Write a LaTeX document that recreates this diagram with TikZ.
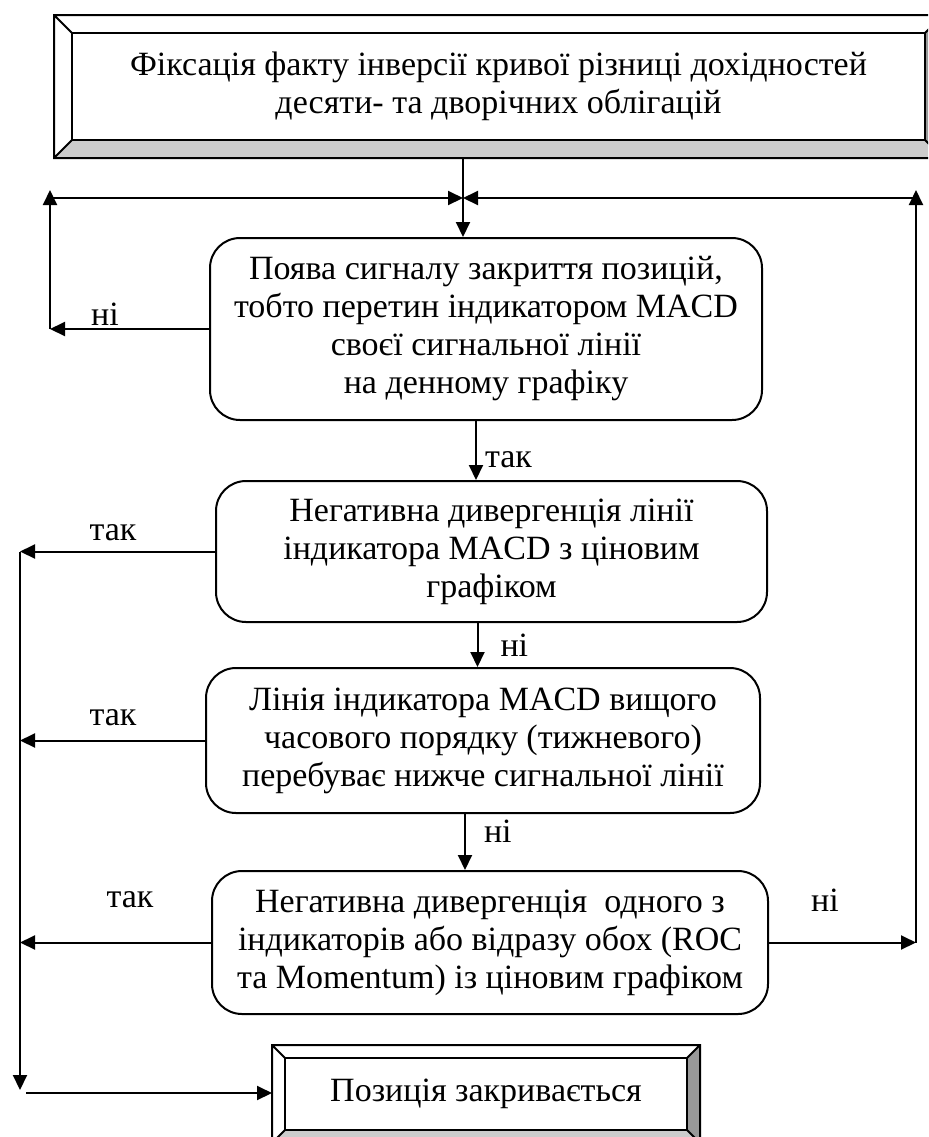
\documentclass[tikz,border=0pt]{standalone}
\usepackage{fontspec}
\setmainfont{Liberation Serif}
\usetikzlibrary{arrows.meta,calc}
\definecolor{bevellight}{RGB}{204,204,204}
\definecolor{beveldark}{RGB}{153,153,153}

\newcommand{\bevelframe}[2]{%
  \coordinate (#1-osw) at ($(#1.south west)+(-#2,#2)$);
  \coordinate (#1-ose) at ($(#1.south east)+(#2,#2)$);
  \coordinate (#1-one) at ($(#1.north east)+(#2,-#2)$);
  \coordinate (#1-onw) at ($(#1.north west)+(-#2,-#2)$);
  \fill[bevellight] (#1-osw) -- (#1-ose) -- (#1.south east) -- (#1.south west) -- cycle;
  \fill[beveldark] (#1-ose) -- (#1-one) -- (#1.north east) -- (#1.south east) -- cycle;
  \draw[bevel line] (#1-onw) rectangle (#1-ose)
    (#1-onw) -- (#1.north west) (#1-one) -- (#1.north east)
    (#1-osw) -- (#1.south west) (#1-ose) -- (#1.south east);
  \draw[bevel line] (#1.south west) rectangle (#1.north east);
}

\begin{document}
\begin{tikzpicture}[
                    x=0.5pt, y=-0.5pt,
                    every node/.style={
                        font=\fontsize{17}{19}\selectfont
                    },
                    condbox/.style={
                        draw,
                        line width=1pt,
                        rounded corners=15pt,
                        align=center,
                        inner sep=2pt
                    },
                    bevelinner/.style={
                        align=center,
                        inner sep=0pt,
                        outer sep=0pt
                    },
                    bevel line/.style={line width=1pt},
                    arr/.style={
                        line width=1pt,
                        -{Triangle[length=7.5pt,width=7pt]}
                    },
                    lbl/.style={inner sep=1pt}
                ]
    \path[use as bounding box, clip] (0,0) rectangle (928,1137);

    \node[bevelinner, minimum width=426.5pt, minimum height=53.5pt] (fix) at (498.5,86.5)
        {Фіксація факту інверсії кривої різниці дохідностей\\десяти- та дворічних облігацій};
    \bevelframe{fix}{18}

    \node[condbox, minimum width=276pt, minimum height=91pt] (sig) at (486,329)
        {Поява сигналу закриття позицій,\\тобто перетин індикатором MACD\\своєї сигнальної лінії\\на денному графіку};
    \node[condbox, minimum width=275.5pt, minimum height=70.5pt] (div) at (491.5,551.5)
        {Негативна дивергенція лінії\\індикатора MACD з ціновим\\графіком};
    \node[condbox, minimum width=277pt, minimum height=72.5pt] (week) at (483,740.5)
        {Лінія індикатора MACD вищого\\часового порядку (тижневого)\\перебуває нижче сигнальної лінії};
    \node[condbox, minimum width=278pt, minimum height=71.5pt] (osc) at (490,942.5)
        {Негативна дивергенція\ \ одного з\\індикаторів або відразу обох (ROC\\та Momentum) із ціновим графіком};

    \node[bevelinner, minimum width=201pt, minimum height=36pt] (close) at (486,1094)
        {Позиція закривається};
    \bevelframe{close}{13}

    \coordinate (join) at (463,198);
    \coordinate (lup) at (50,190);
    \coordinate (lcorner) at (50,198);
    \coordinate (rup) at (916,190);
    \coordinate (rcorner) at (916,198);
    \coordinate (lbot) at (20,1090);
    \coordinate (lstart) at (26,1093);

    \draw[arr] (fix-osw -| join) -- (sig.north -| join);
    \draw[arr] (lcorner) -- (join);
    \draw[arr] (rcorner) -- (join);

    \draw[arr] (sig.west) -- (sig.west -| lup);
    \draw[arr] (sig.west -| lup) -- (lup);
    \node[lbl] (no1) at (105,314) {ні};

    \draw[arr] ([xshift=-5pt]sig.south) -- ([xshift=-5pt]sig.south |- div.north)
        node[lbl, pos=0.65, right=3pt] (yes1) {так};
    \draw[arr] ([xshift=-7pt]div.south) -- ([xshift=-7pt]div.south |- week.north)
        node[lbl, midway, right=10pt] (no2) {ні};
    \draw[arr] ([xshift=-9pt]week.south) -- ([xshift=-9pt]week.south |- osc.north)
        node[lbl, pos=0.3, right=8pt] (no3) {ні};

    \draw[arr] (div.west) -- (div.west -| lbot);
    \node[lbl] (yes2) at (113,533) {так};
    \draw[arr] (week.west) -- (week.west -| lbot);
    \node[lbl] (yes3) at (113,718) {так};
    \draw[arr] (osc.west) -- (osc.west -| lbot);
    \node[lbl] (yes4) at (130,900) {так};
    \draw[arr] (div.west -| lbot) -- (lbot);
    \draw[arr] (lstart) -- (lstart -| close-osw);

    \draw[arr] (osc.east) -- (osc.east -| rup);
    \draw[arr] (osc.east -| rup) -- (rup);
    \node[lbl] (no4) at (825,900) {ні};
\end{tikzpicture}
\end{document}
